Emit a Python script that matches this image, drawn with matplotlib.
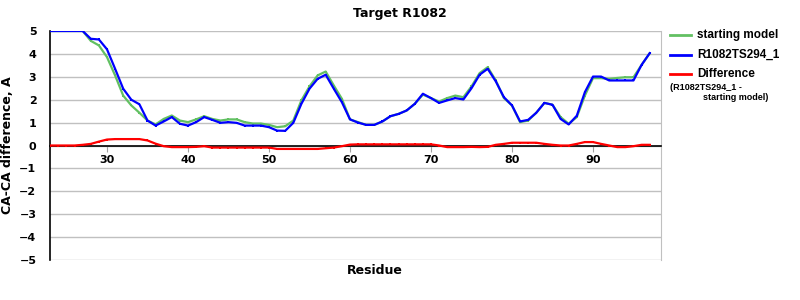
import matplotlib
matplotlib.use("Agg")
import matplotlib.pyplot as plt
from matplotlib.lines import Line2D
import numpy as np

residues = list(range(23, 98))

starting_model = [5.0, 5.0, 5.0, 5.0, 5.0, 4.57, 4.37, 3.86, 3.06, 2.18,
                  1.75, 1.43, 1.09, 0.92, 1.16, 1.31, 1.09, 1.02, 1.14, 1.28,
                  1.16, 1.09, 1.14, 1.14, 1.02, 0.96, 0.96, 0.90, 0.80, 0.84,
                  1.09, 1.97, 2.58, 3.06, 3.23, 2.62, 2.04, 1.14, 1.02, 0.90,
                  0.90, 1.05, 1.28, 1.38, 1.53, 1.82, 2.22, 2.07, 1.92, 2.07,
                  2.18, 2.11, 2.58, 3.16, 3.42, 2.84, 2.07, 1.75, 1.02, 1.09,
                  1.43, 1.86, 1.78, 1.24, 0.95, 1.24, 2.18, 2.94, 2.94, 2.91,
                  2.95, 2.98, 2.98, 3.52, 4.03]

model_ts294 = [5.0, 5.0, 5.0, 5.0, 5.0, 4.66, 4.63, 4.20, 3.35, 2.48,
               2.00, 1.80, 1.09, 0.87, 1.05, 1.24, 0.95, 0.87, 1.02, 1.24,
               1.12, 0.99, 1.02, 0.99, 0.87, 0.87, 0.87, 0.80, 0.65, 0.64,
               0.99, 1.82, 2.48, 2.91, 3.09, 2.48, 1.89, 1.14, 1.00, 0.90,
               0.90, 1.05, 1.28, 1.38, 1.53, 1.82, 2.26, 2.07, 1.86, 1.97,
               2.07, 2.01, 2.50, 3.09, 3.35, 2.80, 2.11, 1.75, 1.05, 1.12,
               1.43, 1.86, 1.78, 1.16, 0.92, 1.30, 2.33, 3.01, 3.01, 2.84,
               2.84, 2.84, 2.84, 3.52, 4.03]

difference = [0.0, 0.0, 0.0, 0.0, 0.03, 0.07, 0.17, 0.26, 0.28, 0.28,
              0.28, 0.28, 0.22, 0.08, -0.03, -0.07, -0.07, -0.07, -0.06, -0.03,
              -0.09, -0.09, -0.09, -0.09, -0.09, -0.09, -0.09, -0.09, -0.15, -0.15,
              -0.15, -0.15, -0.15, -0.15, -0.12, -0.09, -0.03, 0.04, 0.05, 0.05,
              0.05, 0.05, 0.05, 0.05, 0.05, 0.05, 0.05, 0.05, 0.0, -0.07,
              -0.07, -0.07, -0.06, -0.07, -0.06, 0.03, 0.07, 0.12, 0.12, 0.12,
              0.12, 0.07, 0.03, 0.0, 0.0, 0.07, 0.15, 0.15, 0.07, 0.0,
              -0.07, -0.07, -0.03, 0.03, 0.03]

x_ticks = [30, 40, 50, 60, 70, 80, 90]
y_ticks = [5, 4, 3, 2, 1, 0, -1, -2, -3, -4, -5]

GREEN = "#62C062"
BLUE = "#0000FF"
RED = "#FF0000"

fig = plt.figure(figsize=(8, 3), dpi=100)
ax = fig.add_axes([50.3 / 800, 1 - 260 / 300, (660.7 - 50.3) / 800, (260 - 31) / 300])

ax.set_xlim(23, 98.36)
ax.set_ylim(-5, 5)
ax.set_yticks(y_ticks)
ax.set_xticks(x_ticks)
ax.grid(axis="y", color="#C0C0C0", linewidth=1)
ax.set_axisbelow(True)

ax.spines["top"].set_visible(False)
ax.spines["right"].set_color("#C0C0C0")
ax.spines["left"].set_color("black")
ax.spines["left"].set_linewidth(1.2)
ax.spines["bottom"].set_position(("data", 0))
ax.spines["bottom"].set_color("black")
ax.spines["bottom"].set_linewidth(1.2)

ax.tick_params(axis="y", length=0, pad=10, labelsize=8)
ax.tick_params(axis="x", length=4, color="#A0A0A0", pad=3, labelsize=8)
for lbl in ax.get_xticklabels() + ax.get_yticklabels():
    lbl.set_fontweight("bold")

mk = dict(marker="s", markersize=1.6, markeredgewidth=0)
ax.plot(residues, starting_model, color=GREEN, linewidth=1.6, zorder=3, **mk)
ax.plot(residues, model_ts294, color=BLUE, linewidth=1.6, zorder=4, **mk)
ax.plot(residues, difference, color=RED, linewidth=1.6, zorder=5, **mk)

ax.set_ylabel("CA-CA difference, A", fontsize=9, fontweight="bold")
ax.yaxis.set_label_coords((14 - 50.3) / 610.4, 0.5)
fig.text(375 / 800, 1 - 270 / 300, "Residue", ha="center", va="center",
         fontsize=9, fontweight="bold")
fig.text(400 / 800, 1 - 14 / 300, "Target R1082", ha="center", va="center",
         fontsize=9, fontweight="bold", family="Liberation Sans Narrow")

# legend
leg_items = [(GREEN, "starting model", 35), (BLUE, "R1082TS294_1", 54.5), (RED, "Difference", 74)]
for col, lab, yy in leg_items:
    yf = 1 - yy / 300
    fig.add_artist(Line2D([670 / 800, 690.5 / 800], [yf, yf], color=col, linewidth=2,
                          transform=fig.transFigure))
    fig.text(697 / 800, yf, lab, ha="left", va="center", fontsize=8.5,
             fontweight="bold", family="Liberation Sans")
fig.text(670 / 800, 1 - 87 / 300, "(R1082TS294_1 -", ha="left", va="center",
         fontsize=6.5, fontweight="bold", family="Liberation Sans")
fig.text(703 / 800, 1 - 98 / 300, "starting model)", ha="left", va="center",
         fontsize=6.5, fontweight="bold", family="Liberation Sans")

fig.savefig("out.png", dpi=100)
